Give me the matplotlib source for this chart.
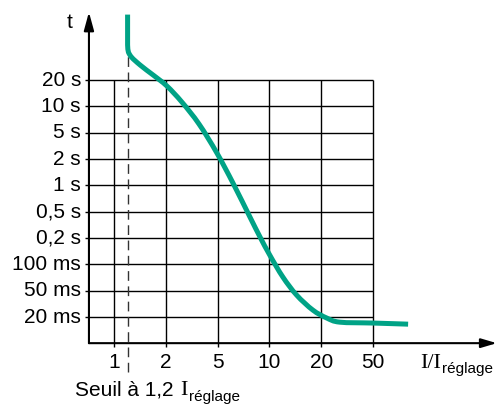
import numpy as np
import matplotlib
matplotlib.use("Agg")
import matplotlib.pyplot as plt
from matplotlib.path import Path
from matplotlib.patches import PathPatch

plt.rcParams['font.family'] = ['Liberation Sans', 'DejaVu Sans']

# tick values (the axes use an even 1-2-5 spacing, not a true log scale)
x_ticks = [1, 2, 5, 10, 20, 50]
x_labels = ['1', '2', '5', '10', '20', '50']
y_ticks = [0.02, 0.05, 0.1, 0.2, 0.5, 1, 2, 5, 10, 20]
y_labels = ['20 ms', '50 ms', '100 ms', '0,2 s', '0,5 s', '1 s', '2 s', '5 s', '10 s', '20 s']

# threshold
seuil = 1.2

# tripping curve: I/Ireglage and time in seconds
curve_i = [1.2, 1.2, 1.24, 1.42, 1.69, 2.04, 2.66, 3.60, 4.94, 6.15, 7.71,
           8.83, 10.07, 11.98, 14.4, 17.9, 22.1, 27.8, 50, 80]
curve_t = [140, 63, 47.5, 33.7, 23.8, 17.1, 11.2, 6.29, 2.47, 1.06, 0.416,
           0.207, 0.127, 0.0717, 0.043, 0.0255, 0.0195, 0.0175, 0.0171, 0.0166]

# 1-2-5 sequences used to build the even-step scales
X_SEQ = np.array([0.1, 0.2, 0.5, 1, 2, 5, 10, 20, 50, 100, 200, 500])
X_IDX = np.arange(-3, 9)
Y_SEQ = np.array([0.001, 0.002, 0.005, 0.01, 0.02, 0.05, 0.1, 0.2, 0.5, 1, 2,
                  5, 10, 20, 50, 100, 200, 500])
Y_IDX = np.arange(-4, 14)


def fwd_x(v):
    return np.interp(np.log10(np.clip(v, 1e-9, None)), np.log10(X_SEQ), X_IDX)


def inv_x(i):
    return 10 ** np.interp(i, X_IDX, np.log10(X_SEQ))


def fwd_y(v):
    return np.interp(np.log10(np.clip(v, 1e-9, None)), np.log10(Y_SEQ), Y_IDX)


def inv_y(i):
    return 10 ** np.interp(i, Y_IDX, np.log10(Y_SEQ))


def smooth_path(px, py):
    # straight first segment, then catmull-rom as cubic beziers
    pts = np.column_stack([px, py])
    verts = [pts[0], pts[1]]
    codes = [Path.MOVETO, Path.LINETO]
    n = len(pts)
    for k in range(1, n - 1):
        p0 = pts[k - 1]
        p1 = pts[k]
        p2 = pts[k + 1]
        p3 = pts[k + 2] if k + 2 < n else pts[k + 1]
        verts += [p1 + (p2 - p0) / 6.0, p2 - (p3 - p1) / 6.0, p2]
        codes += [Path.CURVE4] * 3
    return Path(verts, codes)


fig = plt.figure(figsize=(4.97, 4.04), dpi=100)
ax = fig.add_axes([0, 0, 1, 1])
ax.set_xscale('function', functions=(fwd_x, inv_x))
ax.set_yscale('function', functions=(fwd_y, inv_y))
ax.set_xlim(inv_x(-2.2), inv_x(7.394))
ax.set_ylim(inv_y(-3.30), inv_y(12.04))
ax.axis('off')

x0 = inv_x(-0.483)   # vertical axis position
y0 = inv_y(-0.99)    # horizontal axis position

# grid
ax.vlines(x_ticks, inv_y(-1.14), y_ticks[-1], color='black', lw=1.0, zorder=1)
ax.hlines(y_ticks, inv_x(-0.56), x_ticks[-1], color='black', lw=1.0, zorder=1)

# axes with arrows
ax.annotate('', xy=(x0, inv_y(11.58)), xytext=(x0, y0),
            arrowprops=dict(arrowstyle='-|>,head_length=1.1,head_width=0.3',
                            color='black', lw=1.5, shrinkA=0, shrinkB=0))
ax.annotate('', xy=(inv_x(7.39), y0), xytext=(x0, y0),
            arrowprops=dict(arrowstyle='-|>,head_length=0.95,head_width=0.28',
                            color='black', lw=1.5, shrinkA=0, shrinkB=0))

# threshold dashed line
ax.plot([seuil, seuil], [inv_y(-2.1), inv_y(10.1)], color='#333333', lw=1.0,
        dashes=(7, 4), zorder=2)

# curve, drawn smooth in the scaled (index) space
path = smooth_path(fwd_x(np.array(curve_i)), fwd_y(np.array(curve_t)))
ax.add_patch(PathPatch(path, facecolor='none', edgecolor='#00a386', lw=3.6,
                       capstyle='butt', joinstyle='round',
                       transform=ax.transLimits + ax.transAxes, zorder=3))

# tick labels
for v, lab in zip(y_ticks, y_labels):
    ax.text(inv_x(-0.637), v, lab, ha='right', va='center', fontsize=15)
for v, lab in zip(x_ticks, x_labels):
    ax.text(v, inv_y(-1.71), lab, ha='center', va='center', fontsize=15)

ax.text(inv_x(-0.85), inv_y(11.17), 't', ha='center', va='center', fontsize=15)

# axis title I/I reglage
ax.text(inv_x(5.907), inv_y(-1.94), 'I/I', ha='left', va='baseline',
        fontsize=16, family='Liberation Serif')
ax.text(inv_x(6.33), inv_y(-2.13), 'réglage', ha='left', va='baseline',
        fontsize=11)

# threshold caption
ax.text(inv_x(-0.753), inv_y(-2.96), 'Seuil à 1,2', ha='left', va='baseline',
        fontsize=15)
ax.text(inv_x(1.27), inv_y(-2.96), 'I', ha='left', va='baseline',
        fontsize=16, family='Liberation Serif')
ax.text(inv_x(1.44), inv_y(-3.19), 'réglage', ha='left', va='baseline',
        fontsize=11)

fig.savefig('out.png', dpi=100)
